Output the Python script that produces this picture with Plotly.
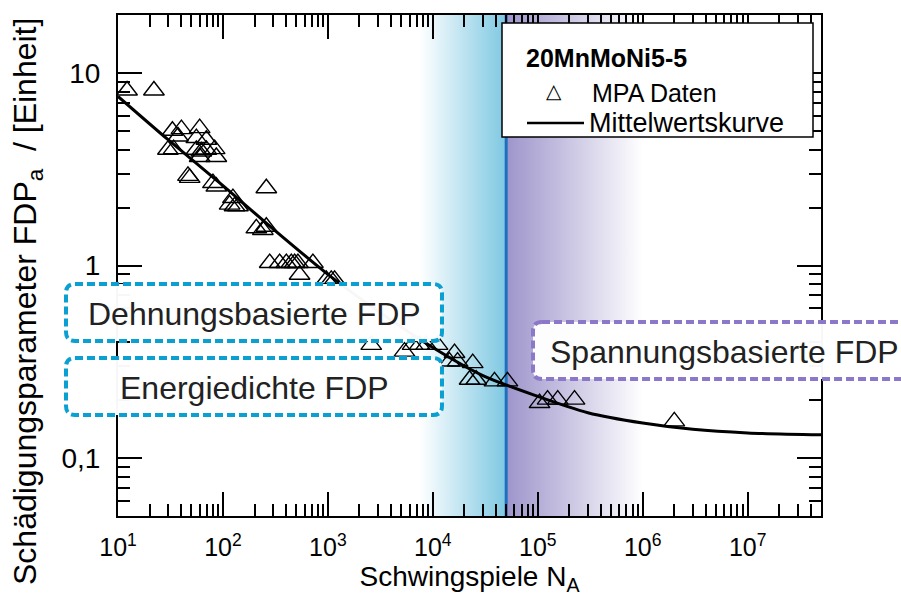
import math
import plotly.graph_objects as go

# ---------------- data ----------------
N_mpa = [12.2, 22.0, 33.0, 40.2, 60.0, 37.3, 55.8, 69.5, 29.9, 33.9, 55.8, 62.3,
         69.5, 83.4, 60.0, 86.5, 46.4, 48.2, 80.3, 86.5, 124.5, 115.8, 129, 139,
         259, 208, 259, 240, 279, 347, 402, 448, 482, 518, 720, 537, 966, 1077,
         1158, 2590, 5370, 6410, 7470, 8650, 11090, 16100, 14400, 17200, 24000,
         22400, 25900, 38700, 51400, 104000, 124000, 155000, 224000, 2.0e6]
FDP_mpa = [8.11, 8.11, 5.01, 5.11, 5.17, 4.68, 4.59, 4.50, 3.99, 4.02, 3.99, 3.91,
           3.99, 4.02, 3.66, 3.66, 2.92, 2.85, 2.68, 2.57, 2.24, 2.07, 2.03, 2.03,
           2.52, 1.56, 1.59, 1.53, 1.03, 1.03, 1.03, 1.03, 1.03, 1.03, 1.03, 0.895,
           0.843, 0.843, 0.843, 0.387, 0.357, 0.387, 0.387, 0.387, 0.387, 0.351,
           0.317, 0.317, 0.311, 0.255, 0.255, 0.250, 0.250, 0.193, 0.201, 0.201,
           0.201, 0.155]

N_curve = [10, 30, 100, 300, 1000, 3000, 1e4, 3e4, 1e5, 3e5, 1e6, 3e6, 1e7, 5e7]
FDP_curve = [7.55, 4.5, 2.6, 1.55, 0.90, 0.58, 0.375, 0.268, 0.209, 0.172, 0.152,
             0.141, 0.135, 0.132]

N_transition = 5e4
N_cyan_start = 7.5e3
N_purple_end = 1e6
x_range = [10, 5e7]
y_range = [0.05, 20]

x_tickvals = [1e1, 1e2, 1e3, 1e4, 1e5, 1e6, 1e7]
x_ticktext = ["10<sup>1</sup>", "10<sup>2</sup>", "10<sup>3</sup>", "10<sup>4</sup>",
              "10<sup>5</sup>", "10<sup>6</sup>", "10<sup>7</sup>"]
y_tickvals = [0.1, 1, 10]
y_ticktext = ["0,1", "1", "10"]

# ---------------- styling ----------------
FONT = "Liberation Sans, Arial, sans-serif"
CYAN = "#7ec8e2"
PURPLE = "#9d95cb"
LINE_BLUE = "#1f6fbf"
DASH_CYAN = "#0aa0d2"
DASH_PURPLE = "#8c78c8"

W, H = 901, 596
ML, MR, MT, MB = 118, 80, 15, 80
PW, PH = W - ML - MR, H - MT - MB


def pp(x, y):
    """pixel -> paper coordinates"""
    return (x - ML) / PW, (H - MB - y) / PH


def rounded_path(x0, y0, x1, y1, r=9):
    def P(x, y):
        a, b = pp(x, y)
        return f"{a:.5f},{b:.5f}"
    return ("M" + P(x0 + r, y0) + " L" + P(x1 - r, y0) + " Q" + P(x1, y0) + " " + P(x1, y0 + r)
            + " L" + P(x1, y1 - r) + " Q" + P(x1, y1) + " " + P(x1 - r, y1)
            + " L" + P(x0 + r, y1) + " Q" + P(x0, y1) + " " + P(x0, y1 - r)
            + " L" + P(x0, y0 + r) + " Q" + P(x0, y0) + " " + P(x0 + r, y0) + " Z")


fig = go.Figure()

# gradient bands
fig.add_trace(go.Scatter(
    x=[N_cyan_start, N_transition, N_transition, N_cyan_start, N_cyan_start],
    y=[y_range[0], y_range[0], y_range[1], y_range[1], y_range[0]],
    mode="lines", line=dict(width=0), fill="toself",
    fillgradient=dict(type="horizontal", colorscale=[[0, "rgba(255,255,255,1)"], [1, CYAN]]),
    hoverinfo="skip", showlegend=False))
fig.add_trace(go.Scatter(
    x=[N_transition, N_purple_end, N_purple_end, N_transition, N_transition],
    y=[y_range[0], y_range[0], y_range[1], y_range[1], y_range[0]],
    mode="lines", line=dict(width=0), fill="toself",
    fillgradient=dict(type="horizontal", colorscale=[[0, PURPLE], [1, "rgba(255,255,255,1)"]]),
    hoverinfo="skip", showlegend=False))
# transition line
fig.add_trace(go.Scatter(x=[N_transition, N_transition], y=y_range, mode="lines",
                         line=dict(color=LINE_BLUE, width=3), hoverinfo="skip",
                         showlegend=False))
# data
fig.add_trace(go.Scatter(x=N_mpa, y=FDP_mpa, mode="markers", name="MPA Daten",
                         marker=dict(symbol="triangle-up-open", size=18, color="black",
                                     line=dict(width=1.4, color="black")),
                         showlegend=False))
fig.add_trace(go.Scatter(x=N_curve, y=FDP_curve, mode="lines", name="Mittelwertskurve",
                         line=dict(color="black", width=3, shape="spline", smoothing=0.8),
                         showlegend=False))

minor_x = [k * 10 ** e for e in range(1, 8) for k in range(2, 10) if k * 10 ** e <= x_range[1]]
minor_y = [k * 10 ** e for e in range(-2, 2) for k in range(2, 10)
           if y_range[0] <= k * 10 ** e <= y_range[1]]

fig.update_xaxes(type="log", range=[math.log10(x_range[0]), math.log10(x_range[1])],
                 automargin=False,
                 tickmode="array", tickvals=x_tickvals, ticktext=x_ticktext,
                 ticks="inside", ticklen=24, tickwidth=1.5, tickcolor="black",
                 minor=dict(ticks="inside", tickvals=minor_x, ticklen=12, tickwidth=1.5,
                            tickcolor="black", showgrid=False),
                 showline=True, linewidth=2, linecolor="black", mirror="allticks",
                 showgrid=False, zeroline=False,
                 tickfont=dict(family=FONT, size=25, color="black"),
                 ticklabelstandoff=8,
                 title=dict(text="Schwingspiele N<sub>A</sub>", standoff=6,
                            font=dict(family=FONT, size=28, color="black")))
fig.update_yaxes(type="log", range=[math.log10(y_range[0]), math.log10(y_range[1])],
                 automargin=False,
                 tickmode="array", tickvals=y_tickvals, ticktext=y_ticktext,
                 ticks="inside", ticklen=24, tickwidth=1.5, tickcolor="black",
                 minor=dict(ticks="inside", tickvals=minor_y, ticklen=12, tickwidth=1.5,
                            tickcolor="black", showgrid=False),
                 showline=True, linewidth=2, linecolor="black", mirror="allticks",
                 showgrid=False, zeroline=False,
                 tickfont=dict(family=FONT, size=28, color="black"),
                 ticklabelstandoff=10)

shapes = []
annotations = []

# y title
ax, ay = pp(27, 302)
annotations.append(dict(xref="paper", yref="paper", x=ax, y=ay, showarrow=False,
                        textangle=-90, xanchor="center", yanchor="middle",
                        text="Schädigungsparameter FDP<sub>a</sub>  / [Einheit]",
                        font=dict(family=FONT, size=32, color="black")))

# regime boxes
boxes = [
    ((66, 284, 442, 341), DASH_CYAN, "Dehnungsbasierte FDP", 254, "center"),
    ((66, 358, 442, 415), DASH_CYAN, "Energiedichte FDP", 254, "center"),
    ((533, 322, 925, 379), DASH_PURPLE, "Spannungsbasierte FDP", 548, "left"),
]
for (x0, y0, x1, y1), col, txt, tx, anc in boxes:
    shapes.append(dict(type="path", xref="paper", yref="paper", layer="above",
                       path=rounded_path(x0, y0, x1, y1),
                       fillcolor="rgba(255,255,255,0.97)",
                       line=dict(color=col, width=4, dash="8px,4px")))
    a, b = pp(tx, (y0 + y1) / 2 + 1)
    annotations.append(dict(xref="paper", yref="paper", x=a, y=b, showarrow=False,
                            xanchor=anc, yanchor="middle", text=txt,
                            font=dict(family=FONT, size=32, color="#222222")))

# legend (manual)
lx0, ly0 = pp(502, 23)
lx1, ly1 = pp(813, 137)
shapes.append(dict(type="rect", xref="paper", yref="paper", layer="above",
                   x0=lx0, y0=ly0, x1=lx1, y1=ly1, fillcolor="white",
                   line=dict(color="black", width=1.5)))
a, b = pp(524, 58)
annotations.append(dict(xref="paper", yref="paper", x=a, y=b, showarrow=False,
                        xanchor="left", yanchor="middle", text="<b>20MnMoNi5-5</b>",
                        font=dict(family=FONT, size=25, color="black")))
a, b = pp(554, 91)
annotations.append(dict(xref="paper", yref="paper", x=a, y=b, showarrow=False,
                        xanchor="center", yanchor="middle", text="△",
                        font=dict(family="DejaVu Sans", size=20, color="black")))
a, b = pp(590, 93)
annotations.append(dict(xref="paper", yref="paper", x=a, y=b, showarrow=False,
                        xanchor="left", yanchor="middle", text="MPA Daten",
                        font=dict(family=FONT, size=25, color="black")))
a0, b0 = pp(527, 123)
a1, _ = pp(584, 123)
shapes.append(dict(type="line", xref="paper", yref="paper", layer="above",
                   x0=a0, y0=b0, x1=a1, y1=b0, line=dict(color="black", width=2.5)))
a, b = pp(587, 123)
annotations.append(dict(xref="paper", yref="paper", x=a, y=b, showarrow=False,
                        xanchor="left", yanchor="middle", text="Mittelwertskurve",
                        font=dict(family=FONT, size=27, color="black")))

fig.update_layout(width=W, height=H, margin=dict(l=ML, r=MR, t=MT, b=MB),
                  paper_bgcolor="white", plot_bgcolor="white",
                  shapes=shapes, annotations=annotations, showlegend=False,
                  font=dict(family=FONT, color="black"))

fig.write_html("out.html")
